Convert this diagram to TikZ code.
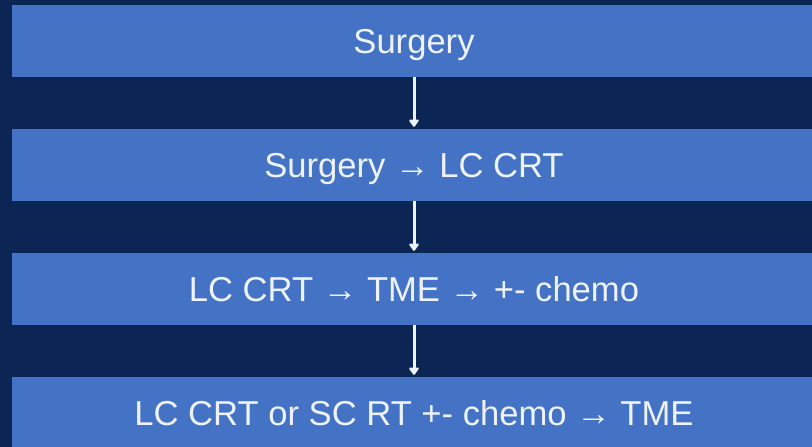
\documentclass[tikz,border=0pt]{standalone}
\usepackage{fontspec}
\setmainfont{Liberation Sans}
\usetikzlibrary{arrows.meta}
\definecolor{navy}{HTML}{0B2555}
\definecolor{barblue}{HTML}{4472C4}
\definecolor{txtwhite}{HTML}{EEF2FA}
\tikzset{
	bar/.style={fill=barblue, text=txtwhite, minimum width=804pt, minimum height=72pt, inner sep=0pt,
		text height=25pt, text depth=0pt, font=\fontsize{34.6}{42}\selectfont},
	flow/.style={draw=txtwhite, line width=3pt, shorten >=2pt,
		-{Triangle[width=11pt,length=8pt,round]}}
}
\begin{document}
\begin{tikzpicture}[x=1pt,y=-1pt]
	\fill[navy] (0,0) rectangle (812,447);
	\useasboundingbox (0,0) rectangle (812,447);

	\node[bar] (s1) at (414,41) {Surgery};
	\node[bar] (s2) at (414,165) {Surgery → LC CRT};
	\node[bar] (s3) at (414,289) {LC CRT → TME → +- chemo};
	\node[bar] (s4) at (414,413) {LC CRT or SC RT +- chemo → TME};

	\draw[flow] (s1.south) -- (s2.north);
	\draw[flow] (s2.south) -- (s3.north);
	\draw[flow] (s3.south) -- (s4.north);
\end{tikzpicture}
\end{document}
